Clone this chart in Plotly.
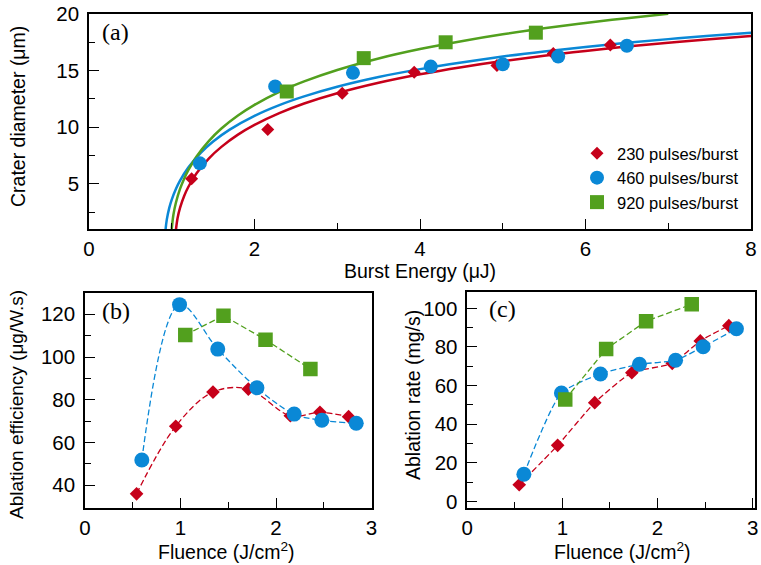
import plotly.graph_objects as go

# ---------------- data ----------------
# (a) crater diameter vs burst energy
a_red_x = [1.24, 2.16, 3.06, 3.93, 4.93, 5.61, 6.30]
a_red_y = [5.45, 9.8, 13.0, 14.85, 15.45, 16.5, 17.25]
a_blue_x = [1.34, 2.25, 3.19, 4.13, 5.00, 5.67, 6.50]
a_blue_y = [6.8, 13.6, 14.8, 15.35, 15.55, 16.25, 17.2]
a_green_x = [2.39, 3.32, 4.31, 5.40]
a_green_y = [13.15, 16.1, 17.5, 18.35]

# fitted curves
fit_red_x = [1.05, 1.07, 1.1, 1.15, 1.2, 1.3, 1.45, 1.6, 1.8, 2.0, 2.3, 2.6, 3.0, 3.5, 4.0, 4.5, 5.0, 5.5, 6.0, 6.5, 7.0, 7.5, 8.0]
fit_red_y = [0.9, 1.95, 2.87, 3.92, 4.71, 5.92, 7.25, 8.26, 9.34, 10.2, 11.24, 12.09, 13.0, 13.92, 14.67, 15.3, 15.84, 16.31, 16.74, 17.12, 17.46, 17.77, 18.06]
fit_blue_x = [0.925, 0.94, 0.97, 1.0, 1.05, 1.1, 1.2, 1.35, 1.5, 1.7, 2.0, 2.3, 2.6, 3.0, 3.5, 4.0, 4.5, 5.0, 5.5, 6.0, 6.5, 7.0, 7.5, 8.0]
fit_blue_y = [0.92, 1.83, 2.87, 3.6, 4.54, 5.28, 6.43, 7.73, 8.73, 9.78, 11.0, 11.95, 12.72, 13.57, 14.43, 15.13, 15.72, 16.24, 16.69, 17.09, 17.45, 17.78, 18.08, 18.35]
fit_green_x = [1.0, 1.02, 1.05, 1.1, 1.15, 1.2, 1.3, 1.45, 1.6, 1.8, 2.0, 2.3, 2.6, 3.0, 3.5, 4.0, 4.5, 5.0, 5.5, 6.0, 6.5, 7.0]
fit_green_y = [1.01, 2.26, 3.32, 4.54, 5.45, 6.2, 7.41, 8.79, 9.88, 11.03, 11.97, 13.12, 14.04, 15.05, 16.07, 16.9, 17.6, 18.21, 18.74, 19.21, 19.63, 20.02]

# (b) ablation efficiency vs fluence
b_red_x = [0.54, 0.95, 1.34, 1.71, 2.15, 2.46, 2.76]
b_red_y = [36, 67.6, 83.6, 85, 72.5, 74.1, 72.1]
b_blue_x = [0.595, 0.99, 1.39, 1.80, 2.19, 2.48, 2.84]
b_blue_y = [51.8, 124.5, 103.7, 85.6, 73.3, 70.4, 69.0]
b_green_x = [1.05, 1.45, 1.89, 2.36]
b_green_y = [110.3, 119.3, 108.1, 94.4]

# (c) ablation rate vs fluence
c_red_x = [0.546, 0.95, 1.34, 1.73, 2.155, 2.45, 2.75]
c_red_y = [8.6, 29.0, 51.1, 66.6, 71.5, 83.1, 91.0]
c_blue_x = [0.595, 0.99, 1.40, 1.81, 2.19, 2.48, 2.83]
c_blue_y = [14.0, 56.1, 66.0, 71.0, 73.1, 80.1, 89.4]
c_green_x = [1.03, 1.46, 1.88, 2.36]
c_green_y = [52.8, 78.9, 93.3, 102.1]

names = ["230 pulses/burst", "460 pulses/burst", "920 pulses/burst"]

RED = "#c6001a"
BLUE = "#0a88d6"
GREEN = "#52a01e"
W, H = 761, 565
FONT = "Liberation Sans, Arial, sans-serif"
SERIF = "Liberation Serif, Times New Roman, serif"

fig = go.Figure()

# ---- panel (a) curves ----
for x, y, c in [(fit_red_x, fit_red_y, RED), (fit_blue_x, fit_blue_y, BLUE), (fit_green_x, fit_green_y, GREEN)]:
    fig.add_trace(go.Scatter(x=x, y=y, mode="lines", line=dict(color=c, width=2.5, shape="spline"),
                             showlegend=False, hoverinfo="skip", xaxis="x", yaxis="y"))
# ---- panel (a) points ----
for x, y, c, sym, sz, n in [(a_red_x, a_red_y, RED, "diamond", 10, names[0]),
                            (a_blue_x, a_blue_y, BLUE, "circle", 14, names[1]),
                            (a_green_x, a_green_y, GREEN, "square", 14, names[2])]:
    fig.add_trace(go.Scatter(x=x, y=y, mode="markers", name=n,
                             marker=dict(color=c, symbol=sym, size=sz, line=dict(width=0)),
                             xaxis="x", yaxis="y"))

# ---- panel (b) ----
for x, y, c, sym, sz, shp in [(b_red_x, b_red_y, RED, "diamond", 10.5, "spline"),
                              (b_blue_x, b_blue_y, BLUE, "circle", 15, "spline"),
                              (b_green_x, b_green_y, GREEN, "square", 14.5, "linear")]:
    fig.add_trace(go.Scatter(x=x, y=y, mode="lines+markers", showlegend=False,
                             line=dict(color=c, width=1.3, dash="6px,3px", shape=shp, smoothing=1),
                             marker=dict(color=c, symbol=sym, size=sz, line=dict(width=0)),
                             xaxis="x2", yaxis="y2"))

# ---- panel (c) ----
for x, y, c, sym, sz, shp in [(c_red_x, c_red_y, RED, "diamond", 10.5, "spline"),
                              (c_blue_x, c_blue_y, BLUE, "circle", 15, "spline"),
                              (c_green_x, c_green_y, GREEN, "square", 14.5, "linear")]:
    fig.add_trace(go.Scatter(x=x, y=y, mode="lines+markers", showlegend=False,
                             line=dict(color=c, width=1.3, dash="6px,3px", shape=shp, smoothing=0.6),
                             marker=dict(color=c, symbol=sym, size=sz, line=dict(width=0)),
                             xaxis="x3", yaxis="y3"))


def px(v):
    return v / W


def py(v):
    return (H - v) / H


def ax(domain, rng, dtick, mdtick, anchor, standoff):
    return dict(domain=domain, range=rng, dtick=dtick, tick0=0,
                ticks="inside", ticklen=10, tickwidth=1.2, tickcolor="black",
                minor=dict(dtick=mdtick, tick0=0, ticks="inside", ticklen=6, tickwidth=1.2, tickcolor="black"),
                showline=True, linecolor="black", linewidth=1.5, mirror=True,
                showgrid=False, zeroline=False, anchor=anchor, automargin=False,
                tickfont=dict(family=FONT, size=20.5, color="black"), ticklabelstandoff=standoff)


fig.update_layout(
    width=W, height=H, margin=dict(l=0, r=0, t=0, b=0, autoexpand=False),
    paper_bgcolor="white", plot_bgcolor="white",
    xaxis=ax([px(89), px(751)], [0, 8], 2, 1, "y", 1),
    yaxis=ax([py(229), py(14)], [1, 20], 5, 2.5, "x", 4),
    xaxis2=ax([px(85), px(372)], [0, 3.005], 1, 0.5, "y2", 1),
    yaxis2=ax([py(507.5), py(293.3)], [29.6, 129.8], 20, 10, "x2", 4),
    xaxis3=ax([px(467.3), px(754.5)], [0, 3.02], 1, 0.5, "y3", 1),
    yaxis3=ax([py(507.7), py(292.3)], [-3.3, 108.3], 20, 10, "x3", 4),
    legend=dict(x=px(577), y=py(136), xanchor="left", yanchor="top",
                bgcolor="rgba(0,0,0,0)", font=dict(family=FONT, size=16.5, color="black"),
                tracegroupgap=0, itemsizing="trace"),
    showlegend=True,
)

ann = [
    dict(text="Burst Energy (μJ)", x=px(420), y=py(271), textangle=0, size=19.5),
    dict(text="Crater diameter (μm)", x=px(18), y=py(117), textangle=-90, size=19.5),
    dict(text="Ablation efficiency (μg/W.s)", x=px(16), y=py(405), textangle=-90, size=19),
    dict(text="Ablation rate (mg/s)", x=px(413), y=py(395), textangle=-90, size=19.5),
    dict(text="Fluence (J/cm<sup>2</sup>)", x=px(226), y=py(551), textangle=0, size=19.5),
    dict(text="Fluence (J/cm<sup>2</sup>)", x=px(622), y=py(551), textangle=0, size=19.5),
]
for a in ann:
    fig.add_annotation(text=a["text"], x=a["x"], y=a["y"], xref="paper", yref="paper",
                       xanchor="center", yanchor="middle", showarrow=False, textangle=a["textangle"],
                       font=dict(family=FONT, size=a["size"], color="black"))

for lbl, x, y in [("(a)", 100, 32), ("(b)", 100, 311), ("(c)", 487, 309)]:
    fig.add_annotation(text=lbl, x=px(x), y=py(y), xref="paper", yref="paper",
                       xanchor="left", yanchor="middle", showarrow=False,
                       font=dict(family=SERIF, size=24, color="black"))

fig.write_html("out.html", config={"displayModeBar": False},
               post_script="document.body.style.margin='0px';document.body.style.overflow='hidden';")
